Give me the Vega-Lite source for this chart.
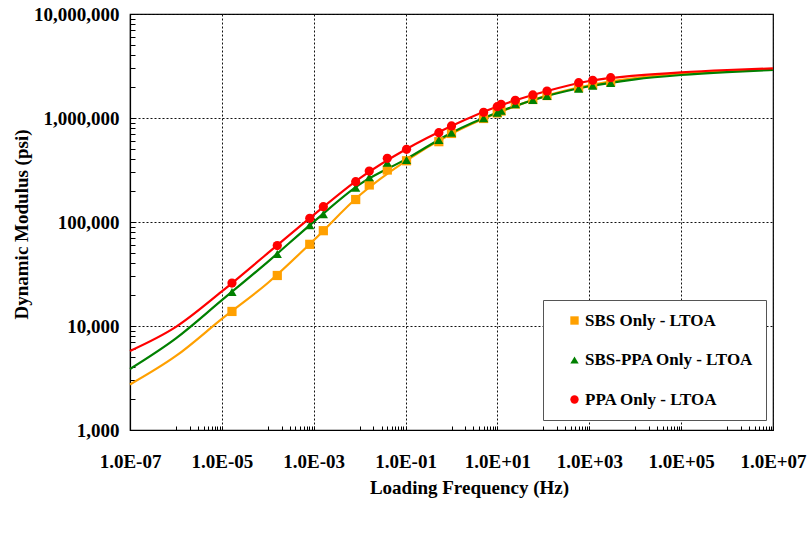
{
  "$schema": "https://vega.github.io/schema/vega-lite/v6.json",
  "width": 643,
  "height": 416,
  "autosize": {"type": "none"},
  "padding": {"left": 130, "top": 14, "right": 39, "bottom": 103},
  "background": "white",
  "config": {
    "view": {"stroke": "black", "strokeWidth": 1.2},
    "font": "Liberation Serif"
  },
  "datasets": {
    "curves": [
      {"series": "SBS Only - LTOA", "f": 1e-7, "E": 2740},
      {"series": "SBS Only - LTOA", "f": 1e-6, "E": 5150},
      {"series": "SBS Only - LTOA", "f": 1e-5, "E": 11700},
      {"series": "SBS Only - LTOA", "f": 1e-4, "E": 25900},
      {"series": "SBS Only - LTOA", "f": 1e-3, "E": 66800},
      {"series": "SBS Only - LTOA", "f": 1e-2, "E": 180700},
      {"series": "SBS Only - LTOA", "f": 1e-1, "E": 385000},
      {"series": "SBS Only - LTOA", "f": 1, "E": 705000},
      {"series": "SBS Only - LTOA", "f": 10, "E": 1117000},
      {"series": "SBS Only - LTOA", "f": 100, "E": 1607000},
      {"series": "SBS Only - LTOA", "f": 1000, "E": 2065000},
      {"series": "SBS Only - LTOA", "f": 10000, "E": 2420000},
      {"series": "SBS Only - LTOA", "f": 100000, "E": 2680000},
      {"series": "SBS Only - LTOA", "f": 1000000, "E": 2830000},
      {"series": "SBS Only - LTOA", "f": 10000000, "E": 2950000},
      {"series": "SBS-PPA Only - LTOA", "f": 1e-7, "E": 3860},
      {"series": "SBS-PPA Only - LTOA", "f": 1e-6, "E": 7600},
      {"series": "SBS-PPA Only - LTOA", "f": 1e-5, "E": 17700},
      {"series": "SBS-PPA Only - LTOA", "f": 1e-4, "E": 41400},
      {"series": "SBS-PPA Only - LTOA", "f": 1e-3, "E": 100400},
      {"series": "SBS-PPA Only - LTOA", "f": 1e-2, "E": 230000},
      {"series": "SBS-PPA Only - LTOA", "f": 1e-1, "E": 400000},
      {"series": "SBS-PPA Only - LTOA", "f": 1, "E": 722000},
      {"series": "SBS-PPA Only - LTOA", "f": 10, "E": 1130000},
      {"series": "SBS-PPA Only - LTOA", "f": 100, "E": 1592000},
      {"series": "SBS-PPA Only - LTOA", "f": 1000, "E": 2018000},
      {"series": "SBS-PPA Only - LTOA", "f": 10000, "E": 2355000},
      {"series": "SBS-PPA Only - LTOA", "f": 100000, "E": 2590000},
      {"series": "SBS-PPA Only - LTOA", "f": 1000000, "E": 2765000},
      {"series": "SBS-PPA Only - LTOA", "f": 10000000, "E": 2900000},
      {"series": "PPA Only - LTOA", "f": 1e-7, "E": 5750},
      {"series": "PPA Only - LTOA", "f": 1e-6, "E": 9800},
      {"series": "PPA Only - LTOA", "f": 1e-5, "E": 21500},
      {"series": "PPA Only - LTOA", "f": 1e-4, "E": 50100},
      {"series": "PPA Only - LTOA", "f": 1e-3, "E": 117000},
      {"series": "PPA Only - LTOA", "f": 1e-2, "E": 263000},
      {"series": "PPA Only - LTOA", "f": 1e-1, "E": 498000},
      {"series": "PPA Only - LTOA", "f": 1, "E": 838000},
      {"series": "PPA Only - LTOA", "f": 10, "E": 1290000},
      {"series": "PPA Only - LTOA", "f": 100, "E": 1778000},
      {"series": "PPA Only - LTOA", "f": 1000, "E": 2270000},
      {"series": "PPA Only - LTOA", "f": 10000, "E": 2550000},
      {"series": "PPA Only - LTOA", "f": 100000, "E": 2750000},
      {"series": "PPA Only - LTOA", "f": 1000000, "E": 2895000},
      {"series": "PPA Only - LTOA", "f": 10000000, "E": 3000000}
    ],
    "points": [
      {"series": "SBS Only - LTOA", "f": 1.66e-5, "E": 13800},
      {"series": "SBS Only - LTOA", "f": 1.61e-4, "E": 30600},
      {"series": "SBS Only - LTOA", "f": 8.2e-4, "E": 61000},
      {"series": "SBS Only - LTOA", "f": 1.62e-3, "E": 82500},
      {"series": "SBS Only - LTOA", "f": 8.2e-3, "E": 164500},
      {"series": "SBS Only - LTOA", "f": 1.62e-2, "E": 227000},
      {"series": "SBS Only - LTOA", "f": 0.04, "E": 316000},
      {"series": "SBS Only - LTOA", "f": 0.105, "E": 388000},
      {"series": "SBS Only - LTOA", "f": 0.53, "E": 592000},
      {"series": "SBS Only - LTOA", "f": 1.0, "E": 710000},
      {"series": "SBS Only - LTOA", "f": 5.0, "E": 989000},
      {"series": "SBS Only - LTOA", "f": 9.9, "E": 1117000},
      {"series": "SBS Only - LTOA", "f": 12, "E": 1167000},
      {"series": "SBS Only - LTOA", "f": 24.5, "E": 1364000},
      {"series": "SBS Only - LTOA", "f": 59, "E": 1506000},
      {"series": "SBS Only - LTOA", "f": 120, "E": 1644000},
      {"series": "SBS Only - LTOA", "f": 587, "E": 1963000},
      {"series": "SBS Only - LTOA", "f": 1186, "E": 2097000},
      {"series": "SBS Only - LTOA", "f": 2924, "E": 2243000},
      {"series": "SBS-PPA Only - LTOA", "f": 1.66e-5, "E": 21200},
      {"series": "SBS-PPA Only - LTOA", "f": 1.61e-4, "E": 49200},
      {"series": "SBS-PPA Only - LTOA", "f": 8.2e-4, "E": 92900},
      {"series": "SBS-PPA Only - LTOA", "f": 1.62e-3, "E": 118600},
      {"series": "SBS-PPA Only - LTOA", "f": 8.2e-3, "E": 213800},
      {"series": "SBS-PPA Only - LTOA", "f": 1.62e-2, "E": 269000},
      {"series": "SBS-PPA Only - LTOA", "f": 0.04, "E": 371500},
      {"series": "SBS-PPA Only - LTOA", "f": 0.105, "E": 395000},
      {"series": "SBS-PPA Only - LTOA", "f": 0.53, "E": 614000},
      {"series": "SBS-PPA Only - LTOA", "f": 1.0, "E": 722000},
      {"series": "SBS-PPA Only - LTOA", "f": 5.0, "E": 993000},
      {"series": "SBS-PPA Only - LTOA", "f": 9.9, "E": 1125000},
      {"series": "SBS-PPA Only - LTOA", "f": 12, "E": 1175000},
      {"series": "SBS-PPA Only - LTOA", "f": 24.5, "E": 1355000},
      {"series": "SBS-PPA Only - LTOA", "f": 59, "E": 1489000},
      {"series": "SBS-PPA Only - LTOA", "f": 120, "E": 1628000},
      {"series": "SBS-PPA Only - LTOA", "f": 587, "E": 1913000},
      {"series": "SBS-PPA Only - LTOA", "f": 1186, "E": 2046000},
      {"series": "SBS-PPA Only - LTOA", "f": 2924, "E": 2170000},
      {"series": "PPA Only - LTOA", "f": 1.66e-5, "E": 25900},
      {"series": "PPA Only - LTOA", "f": 1.61e-4, "E": 59400},
      {"series": "PPA Only - LTOA", "f": 8.2e-4, "E": 108600},
      {"series": "PPA Only - LTOA", "f": 1.62e-3, "E": 140400},
      {"series": "PPA Only - LTOA", "f": 8.2e-3, "E": 244000},
      {"series": "PPA Only - LTOA", "f": 1.62e-2, "E": 309000},
      {"series": "PPA Only - LTOA", "f": 0.04, "E": 410000},
      {"series": "PPA Only - LTOA", "f": 0.105, "E": 500000},
      {"series": "PPA Only - LTOA", "f": 0.53, "E": 722000},
      {"series": "PPA Only - LTOA", "f": 1.0, "E": 838000},
      {"series": "PPA Only - LTOA", "f": 5.0, "E": 1135000},
      {"series": "PPA Only - LTOA", "f": 9.9, "E": 1284000},
      {"series": "PPA Only - LTOA", "f": 12, "E": 1355000},
      {"series": "PPA Only - LTOA", "f": 24.5, "E": 1480000},
      {"series": "PPA Only - LTOA", "f": 59, "E": 1665000},
      {"series": "PPA Only - LTOA", "f": 120, "E": 1818000},
      {"series": "PPA Only - LTOA", "f": 587, "E": 2184000},
      {"series": "PPA Only - LTOA", "f": 1186, "E": 2305000},
      {"series": "PPA Only - LTOA", "f": 2924, "E": 2440000}
    ]
  },
  "encoding": {
    "x": {
      "field": "f",
      "type": "quantitative",
      "scale": {"type": "log", "domain": [1e-7, 10000000], "nice": false},
      "axis": {
        "title": "Loading Frequency (Hz)",
        "titleFont": "Liberation Serif",
        "titleFontSize": 19,
        "titleFontWeight": "bold",
        "titleColor": "black",
        "titleX": 339,
        "titleY": 63,
        "titleAlign": "center",
        "titleBaseline": "alphabetic",
        "labelFont": "Liberation Serif",
        "labelFontSize": 19,
        "labelFontWeight": "bold",
        "labelColor": "black",
        "labelOverlap": false,
        "labelFlush": false,
        "labelBound": false,
        "labelPadding": 26,
        "domainColor": "black",
        "domainWidth": 1.2,
        "tickColor": "black",
        "tickSize": -4,
        "tickWidth": 1,
        "values": [1e-7, 1e-6, 2e-6, 3e-6, 4e-6, 5e-6, 6e-6, 7e-6, 8e-6, 9e-6, 1e-5, 1e-4, 2e-4, 3e-4, 4e-4, 5e-4, 6e-4, 7e-4, 8e-4, 9e-4, 1e-3, 0.01, 0.02, 0.03, 0.04, 0.05, 0.06, 0.07, 0.08, 0.09, 0.1, 1, 2, 3, 4, 5, 6, 7, 8, 9, 10, 100, 200, 300, 400, 500, 600, 700, 800, 900, 1000, 10000, 20000, 30000, 40000, 50000, 60000, 70000, 80000, 90000, 100000, 1000000, 2000000, 3000000, 4000000, 5000000, 6000000, 7000000, 8000000, 9000000, 10000000],
        "labelExpr": "abs(log(datum.value)/LN10-round(log(datum.value)/LN10))<0.0001 && abs(round(log(datum.value)/LN10))%2==1 ? '1.0E'+(datum.value<1?'-':'+')+'0'+abs(round(log(datum.value)/LN10)) : ''",
        "grid": true,
        "gridColor": "#111111",
        "gridDash": [2, 2],
        "gridWidth": 1,
        "gridOpacity": {"condition": {"test": "abs(log(datum.value)/LN10-round(log(datum.value)/LN10))<0.0001 && abs(round(log(datum.value)/LN10))%2==1", "value": 1}, "value": 0}
      }
    },
    "y": {
      "field": "E",
      "type": "quantitative",
      "scale": {"type": "log", "domain": [1000, 10000000], "nice": false},
      "axis": {
        "title": "Dynamic Modulus (psi)",
        "titleFont": "Liberation Serif",
        "titleFontSize": 19,
        "titleFontWeight": "bold",
        "titleColor": "black",
        "titleAngle": -90,
        "titleX": -103,
        "titleY": 210,
        "titleAlign": "center",
        "titleBaseline": "alphabetic",
        "labelFont": "Liberation Serif",
        "labelFontSize": 19,
        "labelFontWeight": "bold",
        "labelColor": "black",
        "labelOverlap": false,
        "labelFlush": false,
        "labelBound": false,
        "labelPadding": 16,
        "domainColor": "black",
        "domainWidth": 1.2,
        "tickColor": "black",
        "tickSize": -5,
        "tickWidth": 1,
        "values": [1000, 2000, 3000, 4000, 5000, 6000, 7000, 8000, 9000, 10000, 20000, 30000, 40000, 50000, 60000, 70000, 80000, 90000, 100000, 200000, 300000, 400000, 500000, 600000, 700000, 800000, 900000, 1000000, 2000000, 3000000, 4000000, 5000000, 6000000, 7000000, 8000000, 9000000, 10000000],
        "labelExpr": "abs(log(datum.value)/LN10-round(log(datum.value)/LN10))<0.0001 ? format(datum.value, ',') : ''",
        "grid": true,
        "gridColor": "#111111",
        "gridDash": [2, 2],
        "gridWidth": 1,
        "gridOpacity": {"condition": {"test": "abs(log(datum.value)/LN10-round(log(datum.value)/LN10))<0.0001", "value": 1}, "value": 0}
      }
    }
  },
  "layer": [
    {
      "data": {"name": "curves"},
      "transform": [{"filter": "datum.series == 'SBS Only - LTOA'"}],
      "mark": {"type": "line", "color": "#FFA000", "strokeWidth": 2.2, "interpolate": "monotone"}
    },
    {
      "data": {"name": "curves"},
      "transform": [{"filter": "datum.series == 'SBS-PPA Only - LTOA'"}],
      "mark": {"type": "line", "color": "#008000", "strokeWidth": 2.2, "interpolate": "monotone"}
    },
    {
      "data": {"name": "curves"},
      "transform": [{"filter": "datum.series == 'PPA Only - LTOA'"}],
      "mark": {"type": "line", "color": "#FF0000", "strokeWidth": 2.2, "interpolate": "monotone"}
    },
    {
      "data": {"name": "points"},
      "mark": {"type": "point", "filled": true, "opacity": 1, "size": 85},
      "encoding": {
        "color": {
          "field": "series",
          "type": "nominal",
          "scale": {"domain": ["SBS Only - LTOA", "SBS-PPA Only - LTOA", "PPA Only - LTOA"], "range": ["#FFA000", "#008000", "#FF0000"]},
          "legend": {
            "title": null,
            "orient": "none",
            "legendX": 413,
            "legendY": 286,
            "fillColor": "white",
            "strokeColor": "#555555",
            "padding": 12,
            "rowPadding": 21.5,
            "symbolOffset": 11,
            "labelOffset": 2,
            "symbolSize": 70,
            "labelFont": "Liberation Serif",
            "labelFontSize": 17,
            "labelFontWeight": "bold",
            "labelColor": "black",
            "labelLimit": 400
          }
        },
        "shape": {
          "field": "series",
          "type": "nominal",
          "scale": {"domain": ["SBS Only - LTOA", "SBS-PPA Only - LTOA", "PPA Only - LTOA"], "range": ["square", "triangle-up", "circle"]},
          "legend": {
            "title": null,
            "orient": "none",
            "legendX": 413,
            "legendY": 286,
            "fillColor": "white",
            "strokeColor": "#555555",
            "padding": 12,
            "rowPadding": 21.5,
            "symbolOffset": 11,
            "labelOffset": 2,
            "symbolSize": 70,
            "labelFont": "Liberation Serif",
            "labelFontSize": 17,
            "labelFontWeight": "bold",
            "labelColor": "black",
            "labelLimit": 400
          }
        }
      }
    }
  ]
}
